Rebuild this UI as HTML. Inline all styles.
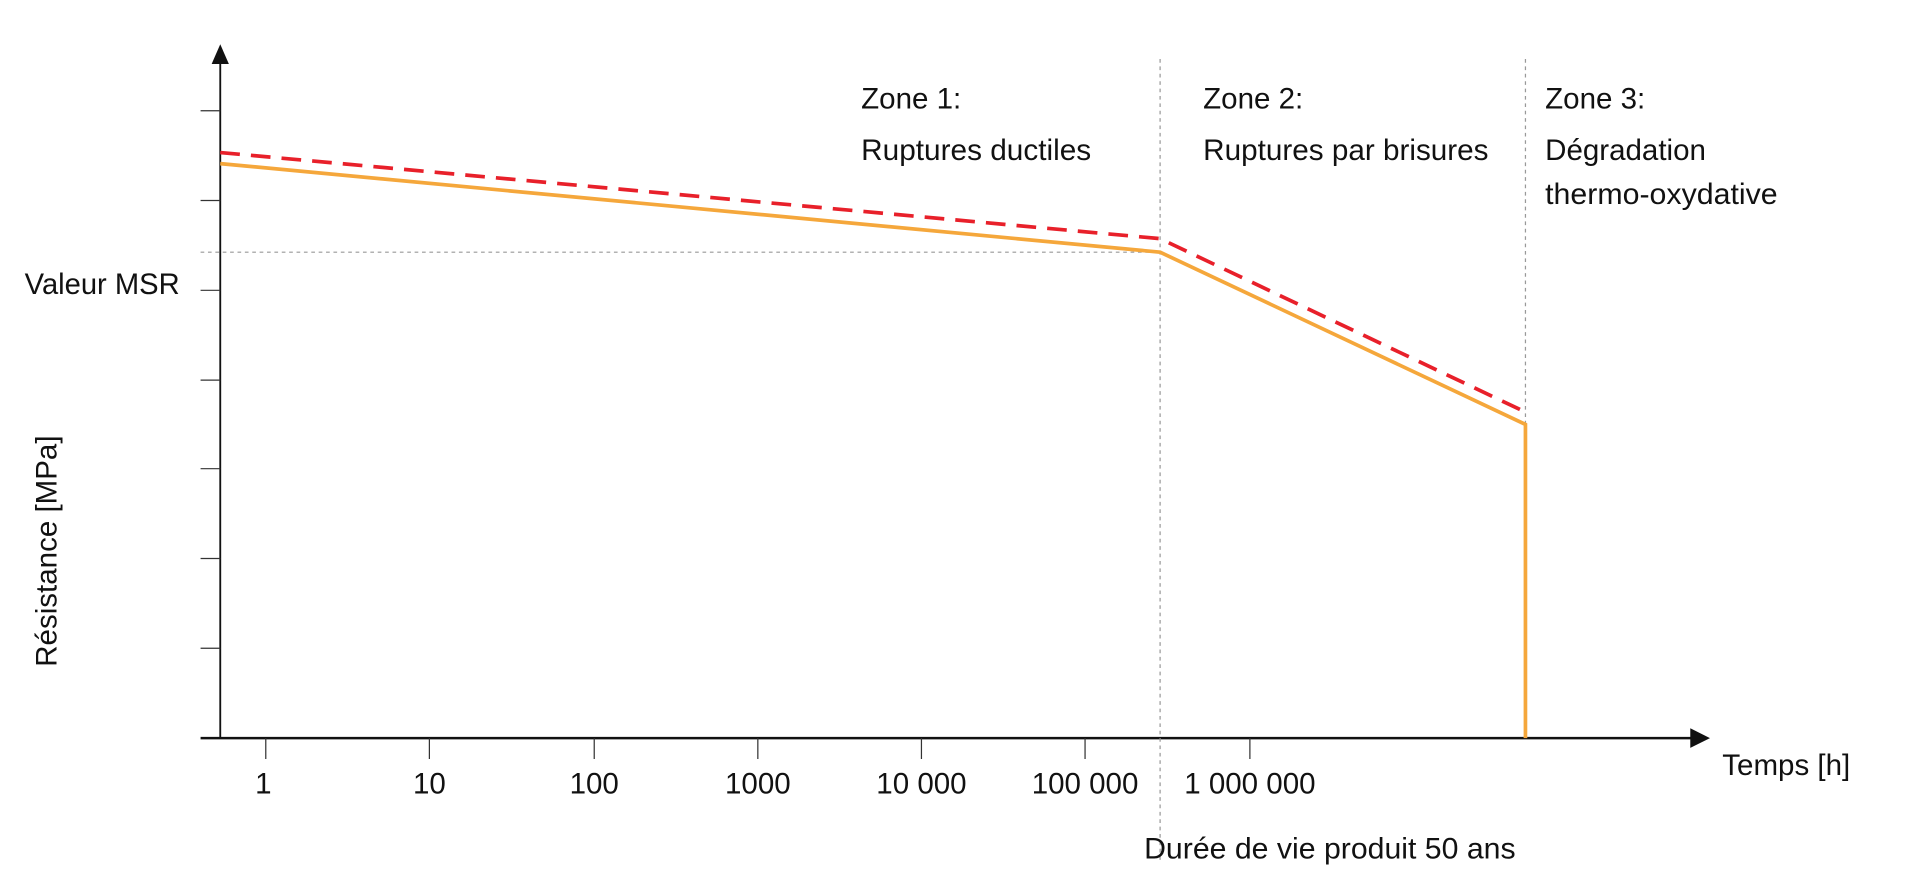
<!DOCTYPE html>
<html><head><style>html,body{margin:0;padding:0;background:#fff;}svg{display:block}</style></head>
<body>
<svg width="1929" height="883" viewBox="0 0 1568 717.8" xmlns="http://www.w3.org/2000/svg" font-family="'Liberation Sans Narrow','Liberation Sans',sans-serif" font-size="24" fill="#111">
<rect width="1568" height="718" fill="#fff"/>
<line x1="179" y1="48" x2="179" y2="600" stroke="#111" stroke-width="1.5"/>
<polygon points="179,36 172,52 186,52" fill="#111"/>
<line x1="163" y1="600" x2="1378" y2="600" stroke="#111" stroke-width="2"/>
<polygon points="1390,600 1374,592 1374,608" fill="#111"/>
<g stroke="#333" stroke-width="1">
<line x1="163" y1="90" x2="179" y2="90"/><line x1="163" y1="163" x2="179" y2="163"/>
<line x1="163" y1="236" x2="179" y2="236"/><line x1="163" y1="309" x2="179" y2="309"/>
<line x1="163" y1="381" x2="179" y2="381"/><line x1="163" y1="454" x2="179" y2="454"/>
<line x1="163" y1="527" x2="179" y2="527"/>
<line x1="216" y1="600" x2="216" y2="617"/><line x1="349" y1="600" x2="349" y2="617"/>
<line x1="483" y1="600" x2="483" y2="617"/><line x1="616" y1="600" x2="616" y2="617"/>
<line x1="749" y1="600" x2="749" y2="617"/><line x1="882" y1="600" x2="882" y2="617"/>
<line x1="1016" y1="600" x2="1016" y2="617"/>
</g>
<g stroke="#999" stroke-width="1" stroke-dasharray="3,3">
<line x1="943" y1="48" x2="943" y2="700"/>
<line x1="1240" y1="48" x2="1240" y2="600"/>
<line x1="163" y1="205" x2="943" y2="205"/>
</g>
<polyline points="179,133 943,205 1240,345 1240,600" fill="none" stroke="#f5a73b" stroke-width="3"/>
<polyline points="179,124 943,194 1240,335" fill="none" stroke="#e8202a" stroke-width="3" stroke-dasharray="16,9"/>
<g text-anchor="middle">
<text x="214" y="645">1</text><text x="349" y="645">10</text><text x="483" y="645">100</text>
<text x="616" y="645">1000</text><text x="749" y="645">10 000</text><text x="882" y="645">100 000</text>
<text x="1016" y="645">1 000 000</text>
</g>
<text x="700" y="88">Zone 1:</text><text x="700" y="130" textLength="187" lengthAdjust="spacingAndGlyphs">Ruptures ductiles</text>
<text x="978" y="88">Zone 2:</text><text x="978" y="130" textLength="232" lengthAdjust="spacingAndGlyphs">Ruptures par brisures</text>
<text x="1256" y="88">Zone 3:</text><text x="1256" y="130">Dégradation</text><text x="1256" y="166" textLength="189" lengthAdjust="spacingAndGlyphs">thermo-oxydative</text>
<text x="20" y="239" textLength="126" lengthAdjust="spacingAndGlyphs">Valeur MSR</text>
<text x="1400" y="630">Temps [h]</text>
<text x="930" y="698" textLength="302" lengthAdjust="spacingAndGlyphs">Durée de vie produit 50 ans</text>
<text transform="translate(46,448) rotate(-90)" text-anchor="middle">Résistance [MPa]</text>
</svg>
</body></html>
